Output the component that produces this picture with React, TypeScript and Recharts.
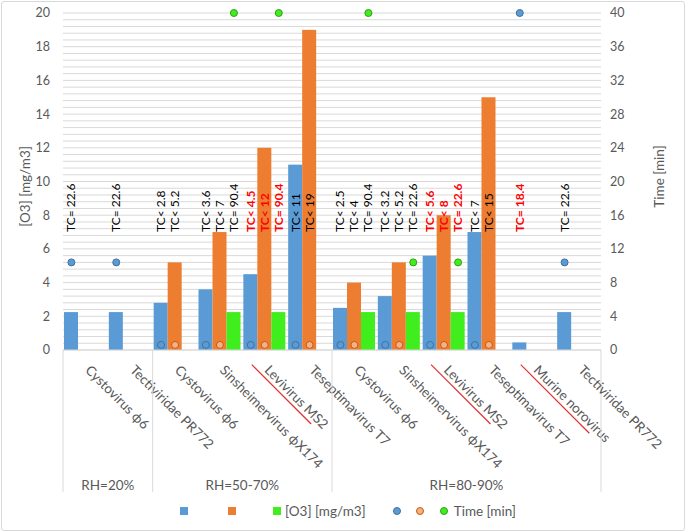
import React from 'react';
import { ComposedChart, Bar, Scatter, XAxis, YAxis, CartesianGrid, Legend } from 'recharts';

// ---------- data ----------
const categories = [
  'Cystovirus ϕ6',
  'Tectiviridae PR772',
  'Cystovirus ϕ6',
  'Sinsheimervirus ϕX174',
  'Levivirus MS2',
  'Teseptimavirus T7',
  'Cystovirus ϕ6',
  'Sinsheimervirus ϕX174',
  'Levivirus MS2',
  'Teseptimavirus T7',
  'Murine norovirus',
  'Tectiviridae PR772',
];
const groupLabels = ['RH=20%', 'RH=50-70%', 'RH=80-90%'];
const groupSizes = [2, 4, 6];

const blueO3 = [2.25, 2.25, 2.8, 3.6, 4.5, 11, 2.5, 3.2, 5.6, 7, 0.45, 2.25];
const orangeO3 = [null, null, 5.2, 7, 12, 19, 4, 5.2, 8, 15, null, null];
const greenO3 = [null, null, null, 2.25, 2.25, null, 2.25, 2.25, 2.25, null, null, null];

const blueTime = [10.4, 10.4, 0.6, 0.6, 0.6, 0.6, 0.6, 0.6, 0.6, 0.6, 40, 10.4];
const orangeTime = [null, null, 0.6, 0.6, 0.6, 0.6, 0.6, 0.6, 0.6, 0.6, null, null];
const greenTime = [null, null, null, 40, 40, null, 40, 10.4, 10.4, null, null, null];

const blueLabels = ['TC= 22.6', 'TC= 22.6', 'TC< 2.8', 'TC< 3.6', 'TC< 4.5', 'TC< 11', 'TC< 2.5', 'TC< 3.2', 'TC< 5.6', 'TC< 7', 'TC= 18.4', 'TC= 22.6'];
const orangeLabels = [null, null, 'TC< 5.2', 'TC< 7', 'TC< 12', 'TC< 19', 'TC< 4', 'TC< 5.2', 'TC< 8', 'TC< 15', null, null];
const greenLabels = [null, null, null, 'TC= 90.4', 'TC= 90.4', null, 'TC= 90.4', 'TC= 22.6', 'TC= 22.6', null, null, null];
const highlighted = [false, false, false, false, true, false, false, false, true, false, true, false];

const leftTicks = [0, 2, 4, 6, 8, 10, 12, 14, 16, 18, 20];
const rightTicks = [0, 4, 8, 12, 16, 20, 24, 28, 32, 36, 40];
const gridTicks = Array.from({ length: 51 }, (_, i) => Math.round(i * 0.4 * 10) / 10);

// ---------- layout / style ----------
const W = 685;
const H = 531;
const LEFT_W = 63;
const RIGHT_W = 84;
const TOP = 13;
const XAXIS_H = 141;
const LEGEND_H = 40;
const CAT_W = (W - LEFT_W - RIGHT_W) / categories.length;
const BAR_SIZE = 14;
const LABEL_LEVEL = 7; // value level (left axis) where TC labels start
const FONT = 'Lato, "Open Sans", sans-serif';
const GREY = '#595959';
const GRID = '#d9d9d9';
const BLUE = '#5B9BD5';
const ORANGE = '#ED7D31';
const GREEN = '#40EE1E';
const strikeLen: Record<number, number> = { 4: 84, 8: 84, 10: 97 };

const data = categories.map((name, i) => ({
  id: `c${i}`,
  name,
  blue: blueO3[i],
  orange: orangeO3[i],
  green: greenO3[i],
  blueTime: blueTime[i],
  orangeTime: orangeTime[i],
  greenTime: greenTime[i],
  blueLabel: blueLabels[i],
  orangeLabel: orangeLabels[i],
  greenLabel: greenLabels[i],
  highlight: highlighted[i],
}));

const makeBarShape = (valueKey: string, labelKey: string) => (props: any) => {
  const { x, y, width, height, fill, payload } = props;
  const v = payload ? payload[valueKey] : null;
  if (x == null || v == null || !height) return <g />;
  const bottom = y + height;
  const cx = x + width / 2;
  const ly = bottom - LABEL_LEVEL * (height / v);
  const lab = payload[labelKey];
  const red = payload.highlight;
  return (
    <g>
      <rect x={x} y={y} width={width} height={height} fill={fill} />
      {lab ? (
        <text
          x={cx}
          y={ly}
          transform={`rotate(-90 ${cx} ${ly})`}
          textAnchor="start"
          dominantBaseline="central"
          fontSize={12}
          fontFamily={FONT}
          fontWeight={red ? 700 : 400}
          fill={red ? '#FF0000' : '#000000'}
        >
          {lab}
        </text>
      ) : null}
    </g>
  );
};

const makeDot = (valueKey: string, fill: string, stroke: string, shift: number) => (props: any) => {
  const { cx, cy, payload } = props;
  if (cx == null || cy == null || !payload || payload[valueKey] == null) return <g />;
  return <circle cx={cx + shift} cy={cy} r={3.5} fill={fill} stroke={stroke} strokeWidth={1} />;
};

const groupStarts = groupSizes.map((_, g) => groupSizes.slice(0, g).reduce((a, b) => a + b, 0));

const CategoryTick = (props: any) => {
  const { x, y, payload } = props;
  let i = props.index;
  if (payload && typeof payload.value === 'string') i = Number(payload.value.slice(1));
  const name = categories[i];
  const ax = x - 1;
  const ay = y + 21;
  const g = groupStarts.indexOf(i);
  const sepBottom = y + 142;
  return (
    <g>
      {g >= 0 ? (
        <g>
          <line x1={x - CAT_W / 2} x2={x - CAT_W / 2} y1={y} y2={sepBottom} stroke={GRID} />
          <text
            x={x - CAT_W / 2 + (groupSizes[g] * CAT_W) / 2}
            y={y + 140}
            textAnchor="middle"
            fontSize={13.5}
            fontFamily={FONT}
            fill={GREY}
          >
            {groupLabels[g]}
          </text>
        </g>
      ) : null}
      {i === categories.length - 1 ? (
        <line x1={x + CAT_W / 2} x2={x + CAT_W / 2} y1={y} y2={sepBottom} stroke={GRID} />
      ) : null}
      <g transform={`rotate(45 ${ax} ${ay})`}>
        <text x={ax} y={ay} textAnchor="start" fontSize={13.5} fontFamily={FONT} fill={GREY}>
          {name}
        </text>
        {strikeLen[i] ? (
          <line x1={ax - 13} x2={ax + strikeLen[i] - 13} y1={ay + 4} y2={ay + 4} stroke="#E03030" strokeWidth={1.2} />
        ) : null}
      </g>
    </g>
  );
};

const AxisTitle = (props: any) => {
  const { viewBox, text, side } = props;
  if (!viewBox) return null;
  const x = side === 'left' ? viewBox.x + 25 : viewBox.x + 58;
  const y = viewBox.y + viewBox.height / 2 + (side === 'left' ? 5 : -5);
  return (
    <text
      x={x}
      y={y}
      transform={`rotate(-90 ${x} ${y})`}
      textAnchor="middle"
      dominantBaseline="central"
      fill={GREY}
      fontSize={13.5}
      fontFamily={FONT}
    >
      {text}
    </text>
  );
};

const sq = (c: string): React.CSSProperties => ({ display: 'inline-block', width: 8, height: 8, background: c });
const dot = (c: string, s: string): React.CSSProperties => ({
  display: 'inline-block',
  width: 6,
  height: 6,
  borderRadius: '50%',
  background: c,
  border: `1px solid ${s}`,
});

const LegendContent = () => (
  <div
    style={{
      height: LEGEND_H,
      display: 'flex',
      alignItems: 'center',
      justifyContent: 'center',
      paddingLeft: 11,
      fontSize: 13.5,
      color: GREY,
      fontFamily: FONT,
      boxSizing: 'border-box',
    }}
  >
    <span style={sq(BLUE)} />
    <span style={{ width: 40 }} />
    <span style={sq(ORANGE)} />
    <span style={{ width: 37 }} />
    <span style={sq(GREEN)} />
    <span style={{ marginLeft: 4 }}>[O3] [mg/m3]</span>
    <span style={{ width: 27 }} />
    <span style={dot(BLUE, '#41719C')} />
    <span style={{ width: 15 }} />
    <span style={dot('#F4B183', '#C55A11')} />
    <span style={{ width: 16 }} />
    <span style={dot(GREEN, '#2E9E14')} />
    <span style={{ marginLeft: 6 }}>Time [min]</span>
  </div>
);

export default function App() {
  return (
    <div style={{ position: 'absolute', left: 0, top: 0, width: W, height: H, background: '#fff', fontFamily: FONT }}>
      <ComposedChart
        width={W}
        height={H}
        data={data}
        margin={{ top: TOP, right: 0, bottom: 0, left: 0 }}
        barGap={0}
        barCategoryGap={0}
      >
        <CartesianGrid vertical={false} stroke={GRID} yAxisId="left" horizontalValues={gridTicks} />
        <XAxis
          dataKey="id"
          type="category"
          interval={0}
          height={XAXIS_H}
          tickLine={false}
          axisLine={{ stroke: GRID }}
          tickSize={0}
          tickMargin={0}
          tick={<CategoryTick />}
        />
        <YAxis
          yAxisId="left"
          orientation="left"
          width={LEFT_W}
          domain={[0, 20]}
          ticks={leftTicks}
          interval={0}
          axisLine={false}
          tickLine={false}
          tickSize={0}
          tickMargin={13}
          tick={{ fill: GREY, fontSize: 12.5, fontFamily: FONT }}
          label={<AxisTitle text="[O3] [mg/m3]" side="left" />}
        />
        <YAxis
          yAxisId="right"
          orientation="right"
          width={RIGHT_W}
          domain={[0, 40]}
          ticks={rightTicks}
          interval={0}
          axisLine={false}
          tickLine={false}
          tickSize={0}
          tickMargin={9}
          tick={{ fill: GREY, fontSize: 12.5, fontFamily: FONT }}
          label={<AxisTitle text="Time [min]" side="right" />}
        />
        <Legend verticalAlign="bottom" align="center" content={<LegendContent />} />
        <Bar yAxisId="left" dataKey="blue" fill={BLUE} barSize={BAR_SIZE} isAnimationActive={false} shape={makeBarShape('blue', 'blueLabel')} />
        <Bar yAxisId="left" dataKey="orange" fill={ORANGE} barSize={BAR_SIZE} isAnimationActive={false} shape={makeBarShape('orange', 'orangeLabel')} />
        <Bar yAxisId="left" dataKey="green" fill={GREEN} barSize={BAR_SIZE} isAnimationActive={false} shape={makeBarShape('green', 'greenLabel')} />
        <Scatter yAxisId="right" dataKey="blueTime" isAnimationActive={false} shape={makeDot('blueTime', BLUE, '#41719C', -BAR_SIZE)} />
        <Scatter yAxisId="right" dataKey="orangeTime" isAnimationActive={false} shape={makeDot('orangeTime', '#F4B183', '#C55A11', 0)} />
        <Scatter yAxisId="right" dataKey="greenTime" isAnimationActive={false} shape={makeDot('greenTime', GREEN, '#2E9E14', BAR_SIZE)} />
      </ComposedChart>
      <div
        style={{
          position: 'absolute',
          left: 1,
          top: 1,
          width: W - 3,
          height: H - 3,
          border: `1px solid ${GRID}`,
          borderRadius: 3,
          pointerEvents: 'none',
        }}
      />
    </div>
  );
}
